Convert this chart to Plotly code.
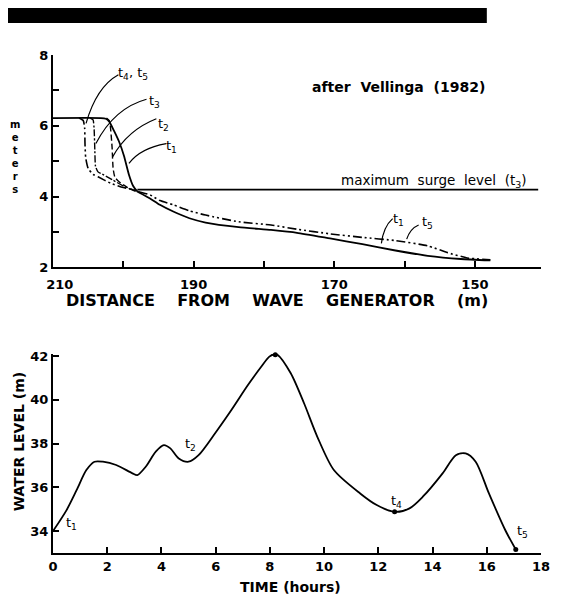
import plotly.graph_objects as go

# ---------------- data: top panel (beach profiles) ----------------
t1_x = [210, 203.2, 202.5, 202.0, 201.3, 200.6, 199.9, 199.2, 198.6, 198.0, 196.2, 194.8,
        192.9, 190.6, 188.3, 183.6, 179.0, 175.3, 170.6, 166.0, 161.3, 156.7, 152.0, 147.8]
t1_y = [6.22, 6.22, 6.2, 6.12, 5.85, 5.55, 5.15, 4.62, 4.3, 4.15, 3.95, 3.77,
        3.58, 3.39, 3.27, 3.14, 3.06, 2.98, 2.82, 2.66, 2.48, 2.33, 2.24, 2.2]

t2_x = [202.4, 202.0, 201.85, 201.6, 201.45, 201.2, 200.6, 199.5, 198.0]
t2_y = [6.22, 6.15, 6.0, 5.4, 4.8, 4.55, 4.42, 4.27, 4.15]

t3_x = [204.7, 204.3, 204.15, 204.05, 203.95, 203.6, 203.0, 201.5, 199.8, 198.0]
t3_y = [6.22, 6.17, 5.9, 5.3, 4.85, 4.7, 4.64, 4.47, 4.28, 4.13]

t5_x = [206.3, 205.7, 205.5, 205.45, 205.35, 205.0, 204.3, 203.6, 201.8, 200.0, 198.5, 198.0,
        196.2, 194.8, 192.9, 190.6, 188.3, 183.6, 179.0, 175.3, 170.6, 166.0, 161.3, 156.7,
        153.9, 151.1, 147.8]
t5_y = [6.22, 6.15, 5.95, 5.5, 5.1, 4.8, 4.63, 4.56, 4.38, 4.26, 4.19, 4.15,
        4.05, 3.89, 3.77, 3.6, 3.48, 3.29, 3.2, 3.08, 2.95, 2.85, 2.76, 2.61,
        2.42, 2.27, 2.22]

surge_x = [198.0, 141.0]
surge_y = [4.2, 4.2]

top_xticks = [210, 190, 170, 150]
top_xtext = ["\u00a0\u00a0\u00a0210", "190", "170", "150"]
top_xminor = [200, 180, 160]
top_yticks = [2, 4, 6, 8]
top_ytext = ["2", "4", "6", "8"]
top_yminor = [3, 5, 7]

# ---------------- data: bottom panel (water level vs time) ----------------
time_h = [0.0, 0.5, 0.87, 1.23, 1.53, 1.84, 2.33, 2.93, 3.11, 3.42, 3.79, 4.09, 4.33, 4.64,
          5.0, 5.37, 5.98, 6.58, 7.19, 7.68, 7.98, 8.17, 8.29, 8.77, 9.26, 9.75, 10.36,
          11.33, 11.94, 12.61, 13.15, 13.64, 14.37, 14.86, 15.22, 15.59, 16.08, 16.68, 17.07]
level_m = [34.0, 34.96, 35.87, 36.79, 37.17, 37.17, 37.02, 36.64, 36.56, 36.94, 37.63, 37.93,
           37.78, 37.32, 37.17, 37.47, 38.47, 39.53, 40.67, 41.51, 41.97, 42.08, 42.05, 41.21,
           39.84, 38.31, 36.79, 35.72, 35.19, 34.88, 35.04, 35.57, 36.64, 37.47, 37.55, 37.17,
           35.72, 34.05, 33.16]

pt_t = [8.2, 12.6, 17.07]
pt_level = [42.06, 34.88, 33.16]

bot_xticks = [0, 2, 4, 6, 8, 10, 12, 14, 16, 18]
bot_yticks = [34, 36, 38, 40, 42]

FONT = "DejaVu Sans"
BLACK = "black"

fig = go.Figure()

# top panel traces
fig.add_trace(go.Scatter(x=t1_x, y=t1_y, mode="lines", xaxis="x", yaxis="y",
                         line=dict(color=BLACK, width=1.8, shape="spline", smoothing=0.5)))
fig.add_trace(go.Scatter(x=t2_x, y=t2_y, mode="lines", xaxis="x", yaxis="y",
                         line=dict(color=BLACK, width=1.4, dash="6px,3px", shape="spline", smoothing=0.5)))
fig.add_trace(go.Scatter(x=t3_x, y=t3_y, mode="lines", xaxis="x", yaxis="y",
                         line=dict(color=BLACK, width=1.4, dash="7px,2px,2px,2px", shape="spline", smoothing=0.5)))
fig.add_trace(go.Scatter(x=t5_x, y=t5_y, mode="lines", xaxis="x", yaxis="y",
                         line=dict(color=BLACK, width=1.6, dash="9px,3px,2px,3px,2px,3px",
                                   shape="spline", smoothing=0.5)))
fig.add_trace(go.Scatter(x=surge_x, y=surge_y, mode="lines", xaxis="x", yaxis="y",
                         line=dict(color=BLACK, width=1.8)))

# bottom panel traces
fig.add_trace(go.Scatter(x=time_h, y=level_m, mode="lines", xaxis="x2", yaxis="y2",
                         line=dict(color=BLACK, width=1.8, shape="spline", smoothing=0.8)))
fig.add_trace(go.Scatter(x=pt_t, y=pt_level, mode="markers", xaxis="x2", yaxis="y2",
                         marker=dict(color=BLACK, size=5), cliponaxis=False))

axis_common = dict(showgrid=False, zeroline=False, showline=True, linecolor=BLACK,
                   linewidth=2, ticks="inside", tickcolor=BLACK, tickwidth=2, ticklen=6,
                   tickfont=dict(family=FONT, size=13, color=BLACK, weight="bold"))
minor_common = dict(ticks="inside", ticklen=6, tickwidth=2, tickcolor=BLACK, showgrid=False)

# page body has an 8px margin, so the figure is 8px smaller than the window
fig.update_layout(
    width=554, height=589,
    margin=dict(l=45, r=14, t=47, b=44),
    paper_bgcolor="white", plot_bgcolor="white",
    showlegend=False,
    font=dict(family=FONT, color=BLACK),
    xaxis=dict(domain=[0, 1], range=[210, 140.6], anchor="y", ticklabelstandoff=4,
               tickmode="array", tickvals=top_xticks, ticktext=top_xtext,
               minor=dict(tickvals=top_xminor, **minor_common), **axis_common),
    yaxis=dict(domain=[0.5733, 1.0], range=[2, 8], anchor="x",
               tickmode="array", tickvals=top_yticks, ticktext=top_ytext,
               minor=dict(tickvals=top_yminor, **minor_common), **axis_common),
    xaxis2=dict(domain=[0, 1], range=[0, 18], anchor="y2",
                tickmode="array", tickvals=bot_xticks, **axis_common),
    yaxis2=dict(domain=[0, 0.4], range=[33, 42.1], anchor="x2",
                tickmode="array", tickvals=bot_yticks, **axis_common),
)

# top black bar (scanned page header)
fig.add_shape(type="rect", xref="paper", yref="paper",
              x0=-0.093, x1=0.889, y0=1.0643, y1=1.0964,
              fillcolor=BLACK, line=dict(width=0))


def ann(text, x, y, xref="x", yref="y", size=13, weight="normal", **kw):
    fig.add_annotation(text=text, x=x, y=y, xref=xref, yref=yref, showarrow=False,
                       xanchor="center", yanchor="middle",
                       font=dict(family=FONT, size=size, color=BLACK, weight=weight), **kw)


# top panel labels
ann("t<sub>4</sub>, t<sub>5</sub>", 198.6, 7.47)
ann("t<sub>3</sub>", 195.5, 6.7)
ann("t<sub>2</sub>", 194.3, 6.04)
ann("t<sub>1</sub>", 193.2, 5.43)
ann("t<sub>1</sub>", 160.8, 3.36)
ann("t<sub>5</sub>", 156.8, 3.27)
ann("maximum  surge  level  (t<sub>3</sub>)", 155.8, 4.45, size=13.5)
ann("after  Vellinga  (1982)", 160.9, 7.1, size=14, weight="bold")

# leaders (curved)
leaders = [
    ((200.7, 7.44), (203.8, 7.1), (205.3, 6.07)),
    ((196.7, 6.75), (201.3, 6.5), (203.9, 5.5)),
    ((195.3, 6.2), (199.4, 5.88), (201.5, 5.13)),
    ((193.9, 5.5), (197.6, 5.37), (199.2, 4.94)),
    ((161.7, 3.38), (163.0, 3.15), (163.3, 2.68)),
    ((158.0, 3.2), (159.2, 3.1), (159.7, 2.8)),
]
for (x0, y0), (cx, cy), (x1, y1) in leaders:
    fig.add_shape(type="path", xref="x", yref="y",
                  path=f"M {x0},{y0} Q {cx},{cy} {x1},{y1}",
                  line=dict(color=BLACK, width=1.2))

# axis titles
ann("DISTANCE    FROM    WAVE    GENERATOR    (m)", 0.46, 0.508, xref="paper", yref="paper",
    size=16, weight="bold")
ann("m<br>e<br>t<br>e<br>r<br>s", -0.077, 0.795, xref="paper", yref="paper", size=10,
    weight="bold")
ann("WATER LEVEL (m)", -0.0707, 0.2235, xref="paper", yref="paper", size=14,
    weight="bold", textangle=-90)
ann("TIME (hours)", 0.487, -0.068, xref="paper", yref="paper", size=14, weight="bold")

# bottom panel labels
ann("t<sub>1</sub>", 0.68, 34.35, xref="x2", yref="y2")
ann("t<sub>2</sub>", 5.06, 37.95, xref="x2", yref="y2")
ann("t<sub>3</sub>", 8.1, 42.6, xref="x2", yref="y2")
ann("t<sub>4</sub>", 12.67, 35.36, xref="x2", yref="y2")
ann("t<sub>5</sub>", 17.3, 34.0, xref="x2", yref="y2")

fig.write_html("out.html")
